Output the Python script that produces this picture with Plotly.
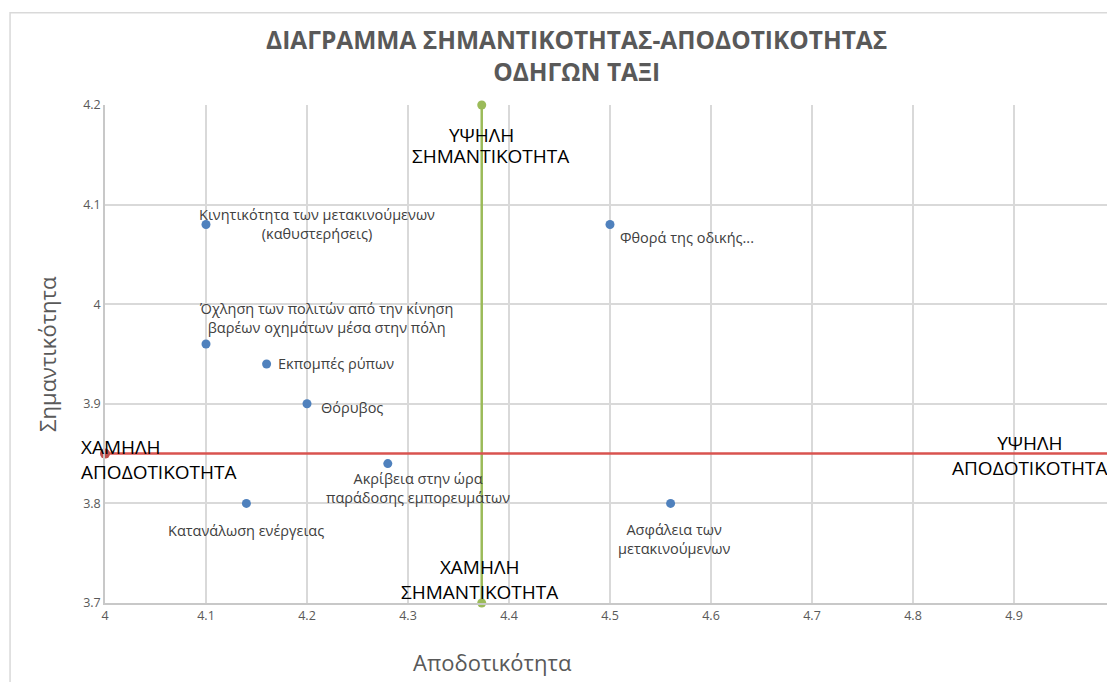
import plotly.graph_objects as go

# data points (Αποδοτικότητα, Σημαντικότητα)
labels = [
    "Κινητικότητα των μετακινούμενων<br>(καθυστερήσεις)",
    "Φθορά της οδικής...",
    "Όχληση των πολιτών από την κίνηση<br>βαρέων οχημάτων μέσα στην πόλη",
    "Εκπομπές ρύπων",
    "Θόρυβος",
    "Ακρίβεια στην ώρα<br>παράδοσης εμπορευμάτων",
    "Κατανάλωση ενέργειας",
    "Ασφάλεια των<br>μετακινούμενων",
]
efficiency = [4.10, 4.50, 4.10, 4.16, 4.20, 4.28, 4.14, 4.56]
importance = [4.08, 4.08, 3.96, 3.94, 3.90, 3.84, 3.80, 3.80]

# quadrant divider lines
mean_eff = 4.373
mean_imp = 3.85
x_range = [4.0, 5.0]
y_range = [3.7, 4.2]

x_ticks = [4.0, 4.1, 4.2, 4.3, 4.4, 4.5, 4.6, 4.7, 4.8, 4.9]
x_ticktext = ["4", "4.1", "4.2", "4.3", "4.4", "4.5", "4.6", "4.7", "4.8", "4.9"]
y_ticks = [3.7, 3.8, 3.9, 4.0, 4.1, 4.2]
y_ticktext = ["3.7", "3.8", "3.9", "4", "4.1", "4.2"]

font_main = "Open Sans, Liberation Sans, sans-serif"
gray = "#595959"

fig = go.Figure()

fig.add_trace(go.Scatter(
    x=[mean_eff, mean_eff], y=y_range,
    mode="lines+markers", cliponaxis=False,
    line=dict(color="#9bbb59", width=2.5),
    marker=dict(size=9, color="#9bbb59"),
    hoverinfo="skip",
))

fig.add_trace(go.Scatter(
    x=[x_range[0], x_range[1] + 0.1], y=[mean_imp, mean_imp],
    mode="lines",
    line=dict(color="#d9534f", width=2.5),
    hoverinfo="skip",
))

fig.add_trace(go.Scatter(
    x=efficiency, y=importance,
    mode="markers",
    marker=dict(size=9, color="#4f81bd"),
    hovertext=labels,
))

fig.add_trace(go.Scatter(
    x=[x_range[0]], y=[mean_imp],
    mode="markers", cliponaxis=False,
    marker=dict(size=10, color="#c0504d"),
    hoverinfo="skip",
))

# point labels, placed roughly like Excel did
label_style = [
    # xanchor, xshift, yshift
    ("left", -9, 1),
    ("left", 8, -13),
    ("left", -9, 26),
    ("left", 9, 0),
    ("left", 12, -4),
    ("center", 30, -24),
    ("center", 0, -27),
    ("center", 4, -36),
]
for x, y, txt, (anc, dx, dy) in zip(efficiency, importance, labels, label_style):
    fig.add_annotation(
        x=x, y=y, text=txt, showarrow=False,
        xanchor=anc, yanchor="middle", align="center",
        xshift=dx, yshift=dy,
        font=dict(size=14.5, color="#404040", family=font_main),
    )

# quadrant captions
quad_font = dict(size=19, color="#000000", family=font_main)
fig.add_annotation(x=mean_eff, y=4.170, text="ΥΨΗΛΗ", showarrow=False,
                   xanchor="center", yanchor="middle", font=quad_font)
fig.add_annotation(x=mean_eff, y=4.149, text="ΣΗΜΑΝΤΙΚΟΤΗΤΑ", showarrow=False,
                   xanchor="center", yanchor="middle", xshift=9, font=quad_font)
fig.add_annotation(x=mean_eff, y=3.7236, text="ΧΑΜΗΛΗ<br>ΣΗΜΑΝΤΙΚΟΤΗΤΑ", showarrow=False,
                   xanchor="center", yanchor="middle", xshift=-2, font=quad_font)
fig.add_annotation(x=x_range[0], y=3.844, text="ΧΑΜΗΛΗ<br>ΑΠΟΔΟΤΙΚΟΤΗΤΑ", showarrow=False,
                   xanchor="left", yanchor="middle", align="left", xshift=-26,
                   font=quad_font)
fig.add_annotation(x=4.916, y=3.8476, text="ΥΨΗΛΗ<br>ΑΠΟΔΟΤΙΚΟΤΗΤΑ", showarrow=False,
                   xanchor="center", yanchor="middle", font=quad_font)

# axis titles
fig.add_annotation(xref="paper", yref="paper", x=0.384, y=-0.1185,
                   text="Αποδοτικότητα", showarrow=False,
                   xanchor="center", yanchor="middle",
                   font=dict(size=22, color=gray, family=font_main))
fig.add_annotation(xref="paper", yref="paper", x=-0.0575, y=0.5,
                   text="Σημαντικότητα", showarrow=False, textangle=-90,
                   xanchor="center", yanchor="middle",
                   font=dict(size=22, color=gray, family=font_main))

fig.update_layout(
    width=1115, height=682,
    showlegend=False,
    plot_bgcolor="white",
    paper_bgcolor="white",
    margin=dict(l=97, r=8, t=97, b=87),
    title=dict(
        text="ΔΙΑΓΡΑΜΜΑ ΣΗΜΑΝΤΙΚΟΤΗΤΑΣ-ΑΠΟΔΟΤΙΚΟΤΗΤΑΣ<br>ΟΔΗΓΩΝ ΤΑΞΙ",
        x=0.51, xref="container", xanchor="center",
        y=0.94, yref="container", yanchor="top",
        font=dict(size=24.5, color=gray, family=font_main, weight="bold"),
    ),
    xaxis=dict(
        range=x_range, tickvals=x_ticks, ticktext=x_ticktext,
        showgrid=True, gridcolor="#d9d9d9", gridwidth=1.5,
        showline=True, linecolor="#c8c8c8", linewidth=1.5,
        zeroline=False, ticks="", automargin=False,
        tickfont=dict(size=12.5, color=gray, family=font_main),
    ),
    yaxis=dict(
        range=y_range, tickvals=y_ticks, ticktext=y_ticktext,
        showgrid=True, gridcolor="#d9d9d9", gridwidth=1.5,
        showline=True, linecolor="#c8c8c8", linewidth=1.5,
        zeroline=False, ticks="", automargin=False,
        tickfont=dict(size=12.5, color=gray, family=font_main),
    ),
)

# outer chart border
fig.add_shape(type="rect", xref="paper", yref="paper",
              x0=-0.094, x1=1.05, y0=-0.3, y1=1.185,
              line=dict(color="#d9d9d9", width=1.5), layer="below")

fig.write_html("out.html")
